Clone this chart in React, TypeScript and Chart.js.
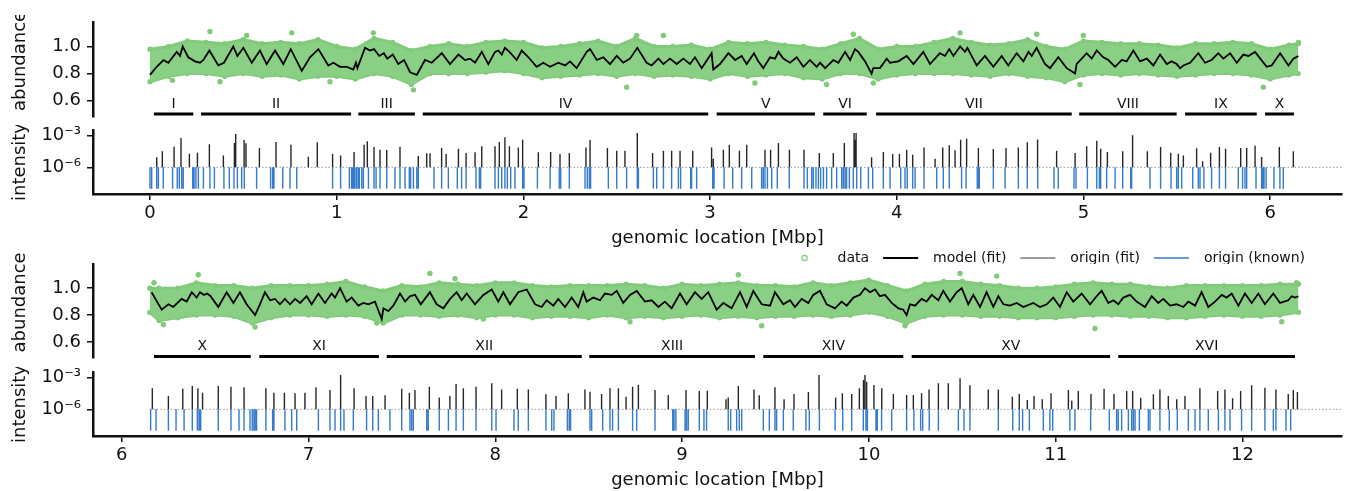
import React, { useEffect, useRef } from 'react';
import { Chart, registerables } from 'chart.js';

Chart.register(...registerables);

const FONT = '"DejaVu Sans", Verdana, sans-serif';
const INK = '#111111';
const GREEN = 'rgb(128, 202, 122)';
const GREEN_FILL = 'rgb(138, 208, 132)';
const BLUE = 'rgb(52, 122, 205)';
const FIT_INK = '#262626';

// ---------------- top panel (0 – 6.2 Mbp) ----------------
const TOP_X_TICKS = [0, 1, 2, 3, 4, 5, 6];
const TOP_CHROM_NAMES = ['I', 'II', 'III', 'IV', 'V', 'VI', 'VII', 'VIII', 'IX', 'X'];
const TOP_CHROM_START = [0.021, 0.273, 1.116, 1.461, 3.035, 3.606, 3.889, 4.977, 5.544, 5.972];
const TOP_CHROM_END = [0.232, 1.077, 1.419, 2.990, 3.562, 3.839, 4.937, 5.499, 5.928, 6.127];

const TOP_MODEL_X = [
  0.000, 0.036, 0.072, 0.098, 0.143, 0.161, 0.175, 0.205, 0.241, 0.268,
  0.286, 0.318, 0.366, 0.396, 0.446, 0.468, 0.500, 0.545, 0.589, 0.625,
  0.670, 0.714, 0.754, 0.813, 0.857, 0.902, 0.955, 0.982, 1.018, 1.053,
  1.089, 1.103, 1.111, 1.152, 1.178, 1.200, 1.228, 1.253, 1.271, 1.300,
  1.330, 1.361, 1.393, 1.429, 1.473, 1.509, 1.563, 1.607, 1.652, 1.687,
  1.714, 1.741, 1.777, 1.812, 1.848, 1.866, 1.884, 1.901, 1.925, 1.964,
  1.991, 2.027, 2.071, 2.107, 2.143, 2.187, 2.223, 2.250, 2.285, 2.339,
  2.357, 2.393, 2.428, 2.464, 2.500, 2.535, 2.571, 2.610, 2.660, 2.687,
  2.723, 2.750, 2.785, 2.821, 2.857, 2.892, 2.919, 2.955, 3.008, 3.017,
  3.053, 3.098, 3.134, 3.169, 3.196, 3.235, 3.258, 3.285, 3.321, 3.348,
  3.366, 3.392, 3.428, 3.464, 3.500, 3.535, 3.571, 3.589, 3.616, 3.660,
  3.687, 3.723, 3.750, 3.776, 3.794, 3.830, 3.865, 3.874, 3.910, 3.946,
  3.964, 4.008, 4.053, 4.089, 4.142, 4.178, 4.231, 4.258, 4.281, 4.303,
  4.339, 4.365, 4.378, 4.428, 4.472, 4.517, 4.562, 4.597, 4.642, 4.678,
  4.705, 4.723, 4.749, 4.794, 4.821, 4.865, 4.910, 4.955, 4.963, 5.017,
  5.044, 5.071, 5.106, 5.133, 5.169, 5.205, 5.231, 5.267, 5.303, 5.339,
  5.374, 5.410, 5.446, 5.472, 5.499, 5.517, 5.535, 5.571, 5.615, 5.651,
  5.686, 5.722, 5.749, 5.785, 5.821, 5.856, 5.883, 5.919, 5.981, 6.008,
  6.053, 6.098, 6.124, 6.151,
];
const TOP_MODEL_Y = [
  0.79, 0.85, 0.90, 0.88, 0.96, 0.93, 1.00, 0.92, 0.89, 0.88,
  0.90, 0.97, 0.86, 0.88, 1.00, 0.93, 0.99, 0.88, 0.97, 0.87,
  0.97, 0.87, 0.98, 0.82, 0.92, 0.98, 0.86, 0.88, 0.85, 0.85,
  0.83, 0.88, 0.84, 0.99, 0.97, 0.98, 0.93, 0.95, 0.91, 0.94,
  0.87, 0.90, 0.81, 0.79, 0.90, 0.88, 0.95, 0.87, 0.94, 0.90,
  0.91, 0.88, 0.96, 0.87, 0.96, 0.97, 0.94, 0.99, 0.96, 0.90,
  0.97, 0.92, 0.85, 0.88, 0.85, 0.88, 0.86, 0.89, 0.84, 0.96,
  0.98, 0.90, 0.92, 0.87, 0.93, 0.88, 0.91, 0.99, 0.88, 0.86,
  0.91, 0.87, 0.91, 0.87, 0.91, 0.87, 0.92, 0.84, 0.95, 0.83,
  0.87, 0.95, 0.90, 0.93, 0.87, 0.95, 0.89, 0.84, 0.92, 0.91,
  0.96, 0.91, 0.88, 0.92, 0.85, 0.90, 0.85, 0.88, 0.84, 0.90,
  0.88, 0.96, 0.90, 0.98, 0.96, 0.89, 0.80, 0.84, 0.84, 0.91,
  0.88, 0.89, 0.93, 0.87, 0.96, 0.87, 0.95, 0.93, 0.98, 0.93,
  1.00, 0.96, 0.99, 0.86, 0.93, 0.85, 0.93, 0.86, 0.95, 0.89,
  0.96, 0.93, 0.99, 0.87, 0.84, 0.92, 0.84, 0.80, 0.87, 0.95,
  0.91, 0.97, 0.92, 0.90, 0.85, 0.90, 0.89, 0.97, 0.89, 0.91,
  0.86, 0.94, 0.87, 0.89, 0.87, 0.84, 0.86, 0.88, 0.95, 0.88,
  0.90, 0.95, 0.91, 0.95, 0.88, 0.94, 0.93, 0.96, 0.85, 0.86,
  0.95, 0.86, 0.91, 0.93,
];

// envelope of the dense cloud of data points (upper / lower edge)
const TOP_ENV_X = [
  0.00, 0.10, 0.20, 0.30, 0.40, 0.50, 0.60, 0.70, 0.80, 0.90,
  1.00, 1.10, 1.20, 1.30, 1.40, 1.50, 1.60, 1.70, 1.80, 1.90,
  2.00, 2.10, 2.20, 2.30, 2.40, 2.50, 2.60, 2.70, 2.80, 2.90,
  3.00, 3.10, 3.20, 3.30, 3.40, 3.50, 3.60, 3.70, 3.80, 3.90,
  4.00, 4.10, 4.20, 4.30, 4.40, 4.50, 4.60, 4.70, 4.80, 4.90,
  5.00, 5.10, 5.20, 5.30, 5.40, 5.50, 5.60, 5.70, 5.80, 5.90,
  6.00, 6.10, 6.15,
];
const TOP_ENV_UPPER = [
  0.98, 1.00, 1.04, 1.03, 1.02, 1.05, 1.02, 1.03, 1.02, 1.05,
  1.00, 0.98, 1.06, 1.03, 0.97, 1.00, 1.02, 1.00, 1.03, 1.04,
  1.03, 0.99, 1.00, 1.02, 1.04, 1.00, 1.06, 1.00, 1.00, 1.01,
  0.98, 1.03, 1.02, 1.03, 1.01, 1.00, 0.98, 1.02, 1.06, 0.98,
  1.00, 1.00, 1.03, 1.06, 1.03, 1.01, 1.02, 1.05, 1.00, 0.98,
  1.04, 1.03, 1.02, 1.02, 1.01, 0.99, 1.02, 1.02, 1.03, 1.02,
  0.98, 1.01, 1.02,
];
const TOP_ENV_LOWER = [
  0.74, 0.78, 0.80, 0.80, 0.78, 0.80, 0.78, 0.79, 0.76, 0.78,
  0.78, 0.76, 0.80, 0.78, 0.72, 0.80, 0.80, 0.80, 0.81, 0.82,
  0.80, 0.77, 0.78, 0.79, 0.80, 0.78, 0.80, 0.78, 0.79, 0.78,
  0.76, 0.80, 0.78, 0.79, 0.80, 0.77, 0.76, 0.80, 0.80, 0.76,
  0.79, 0.80, 0.80, 0.80, 0.79, 0.78, 0.80, 0.78, 0.77, 0.74,
  0.79, 0.80, 0.79, 0.80, 0.79, 0.78, 0.79, 0.80, 0.80, 0.79,
  0.76, 0.79, 0.80,
];
const TOP_OUT_X = [0.12, 0.321, 0.375, 0.518, 0.759, 0.964, 1.196, 1.411, 2.553, 2.607, 2.750, 3.240, 3.624, 3.767, 3.874, 4.339, 4.749, 4.981, 4.999, 5.963, 6.151];
const TOP_OUT_Y = [0.75, 1.11, 0.74, 1.08, 1.10, 0.74, 1.10, 0.68, 0.70, 1.08, 1.08, 0.73, 0.72, 1.09, 0.73, 1.10, 1.09, 0.72, 1.08, 0.70, 1.03];

const TOP_FIT_X = [
  0.036, 0.066, 0.129, 0.166, 0.211, 0.254, 0.318, 0.393, 0.452, 0.459,
  0.504, 0.514, 0.586, 0.675, 0.755, 0.848, 0.896, 0.978, 1.021, 1.093,
  1.147, 1.164, 1.200, 1.232, 1.268, 1.339, 1.437, 1.482, 1.500, 1.562,
  1.586, 1.652, 1.693, 1.741, 1.777, 1.848, 1.871, 1.901, 1.925, 1.973,
  1.996, 2.080, 2.146, 2.196, 2.246, 2.335, 2.357, 2.450, 2.500, 2.544,
  2.610, 2.692, 2.750, 2.794, 2.839, 2.907, 3.008, 3.017, 3.071, 3.103,
  3.157, 3.196, 3.294, 3.324, 3.366, 3.425, 3.503, 3.585, 3.660, 3.719,
  3.771, 3.776, 3.782, 3.865, 3.928, 3.978, 4.014, 4.053, 4.085, 4.146,
  4.205, 4.246, 4.281, 4.312, 4.342, 4.374, 4.437, 4.517, 4.585, 4.651,
  4.699, 4.754, 4.856, 4.955, 5.017, 5.071, 5.092, 5.128, 5.210, 5.263,
  5.342, 5.413, 5.467, 5.508, 5.535, 5.606, 5.638, 5.681, 5.728, 5.761,
  5.842, 5.874, 5.919, 5.954, 6.049, 6.124,
];
const TOP_FIT_LOG10 = [
  -5.06, -4.50, -4.06, -3.25, -4.72, -4.63, -3.84, -4.88, -3.72, -2.88,
  -3.44, -3.75, -4.19, -3.63, -3.88, -5.00, -3.66, -4.75, -4.88, -4.56,
  -3.88, -3.56, -4.09, -4.34, -4.38, -4.06, -4.94, -4.69, -4.69, -4.19,
  -4.75, -4.25, -4.66, -4.59, -4.03, -4.03, -3.63, -3.19, -4.03, -4.13,
  -3.41, -4.59, -4.56, -4.75, -4.66, -4.13, -3.44, -4.19, -4.44, -4.44,
  -2.78, -4.66, -4.44, -4.44, -4.44, -4.44, -4.13, -5.19, -4.34, -3.88,
  -4.44, -3.88, -4.34, -4.34, -3.72, -4.34, -4.34, -4.66, -4.66, -3.72,
  -2.78, -3.41, -2.78, -5.06, -4.56, -4.75, -4.75, -4.34, -4.81, -4.13,
  -5.19, -4.13, -3.94, -4.41, -3.41, -3.31, -4.19, -4.28, -4.19, -4.13,
  -3.66, -3.38, -4.44, -4.66, -4.03, -3.50, -4.25, -4.56, -4.50, -3.00,
  -4.50, -4.09, -4.63, -4.72, -4.88, -4.22, -5.44, -4.63, -4.09, -4.25,
  -4.19, -4.19, -3.97, -5.03, -4.09, -4.50,
];
const TOP_KNOWN_X = [
  0.000, 0.009, 0.036, 0.045, 0.071, 0.121, 0.146, 0.157, 0.170, 0.178,
  0.229, 0.236, 0.246, 0.259, 0.286, 0.321, 0.345, 0.396, 0.425, 0.450,
  0.468, 0.491, 0.505, 0.571, 0.646, 0.657, 0.664, 0.711, 0.750, 0.786,
  0.978, 1.021, 1.068, 1.080, 1.086, 1.093, 1.098, 1.107, 1.116, 1.121,
  1.134, 1.143, 1.170, 1.200, 1.211, 1.232, 1.268, 1.312, 1.339, 1.366,
  1.389, 1.396, 1.411, 1.429, 1.437, 1.521, 1.562, 1.598, 1.646, 1.669,
  1.693, 1.746, 1.764, 1.771, 1.848, 1.866, 1.884, 1.901, 1.914, 1.932,
  1.955, 1.996, 2.003, 2.075, 2.143, 2.192, 2.200, 2.246, 2.330, 2.342,
  2.353, 2.360, 2.455, 2.500, 2.553, 2.610, 2.616, 2.696, 2.714, 2.750,
  2.794, 2.830, 2.842, 2.896, 2.901, 2.928, 3.014, 3.021, 3.075, 3.121,
  3.169, 3.223, 3.276, 3.285, 3.294, 3.307, 3.330, 3.360, 3.424, 3.503,
  3.521, 3.544, 3.553, 3.567, 3.580, 3.592, 3.607, 3.624, 3.651, 3.678,
  3.705, 3.714, 3.723, 3.731, 3.746, 3.767, 3.785, 3.807, 3.848, 3.871,
  3.928, 3.964, 4.021, 4.044, 4.056, 4.085, 4.098, 4.146, 4.214, 4.249,
  4.281, 4.347, 4.371, 4.431, 4.437, 4.442, 4.517, 4.580, 4.651, 4.699,
  4.755, 4.842, 4.865, 4.949, 4.960, 5.021, 5.071, 5.085, 5.092, 5.124,
  5.169, 5.210, 5.253, 5.258, 5.356, 5.413, 5.469, 5.499, 5.508, 5.526,
  5.585, 5.615, 5.624, 5.645, 5.686, 5.728, 5.761, 5.829, 5.852, 5.865,
  5.874, 5.924, 5.954, 5.960, 5.967, 5.978, 6.020, 6.052, 6.070,
];

// ---------------- bottom panel (6.1 – 12.3 Mbp) ----------------
const BOT_X_TICKS = [6, 7, 8, 9, 10, 11, 12];
const BOT_CHROM_NAMES = ['X', 'XI', 'XII', 'XIII', 'XIV', 'XV', 'XVI'];
const BOT_CHROM_START = [6.173, 6.737, 7.419, 8.503, 9.435, 10.229, 11.335];
const BOT_CHROM_END = [6.691, 7.377, 8.463, 9.390, 10.184, 11.291, 12.281];

const BOT_MODEL_X = [
  6.160, 6.214, 6.250, 6.276, 6.321, 6.348, 6.375, 6.401, 6.419, 6.441,
  6.458, 6.476, 6.517, 6.562, 6.598, 6.633, 6.669, 6.714, 6.740, 6.767,
  6.794, 6.821, 6.847, 6.874, 6.901, 6.928, 6.955, 6.990, 7.017, 7.053,
  7.088, 7.124, 7.142, 7.169, 7.204, 7.231, 7.267, 7.294, 7.320, 7.356,
  7.392, 7.401, 7.427, 7.454, 7.490, 7.517, 7.543, 7.570, 7.601, 7.650,
  7.686, 7.722, 7.758, 7.793, 7.820, 7.847, 7.891, 7.936, 7.981, 8.016,
  8.043, 8.079, 8.123, 8.168, 8.213, 8.248, 8.275, 8.311, 8.337, 8.373,
  8.409, 8.444, 8.471, 8.489, 8.525, 8.561, 8.587, 8.623, 8.650, 8.685,
  8.721, 8.757, 8.801, 8.837, 8.873, 8.908, 8.944, 8.989, 9.024, 9.069,
  9.105, 9.140, 9.185, 9.221, 9.265, 9.310, 9.346, 9.381, 9.426, 9.471,
  9.497, 9.542, 9.578, 9.604, 9.640, 9.676, 9.702, 9.738, 9.774, 9.818,
  9.854, 9.881, 9.917, 9.952, 9.979, 10.006, 10.033, 10.059, 10.086, 10.122,
  10.158, 10.184, 10.202, 10.220, 10.247, 10.282, 10.309, 10.336, 10.372, 10.398,
  10.434, 10.470, 10.497, 10.532, 10.559, 10.595, 10.630, 10.666, 10.693, 10.720,
  10.755, 10.791, 10.827, 10.880, 10.916, 10.952, 10.987, 11.023, 11.059, 11.094,
  11.139, 11.184, 11.219, 11.246, 11.282, 11.309, 11.335, 11.362, 11.398, 11.433,
  11.478, 11.514, 11.549, 11.576, 11.612, 11.647, 11.683, 11.710, 11.746, 11.781,
  11.817, 11.853, 11.889, 11.915, 11.942, 11.978, 12.013, 12.049, 12.085, 12.120,
  12.165, 12.201, 12.245, 12.263, 12.281, 12.299,
];
const BOT_MODEL_Y = [
  0.97, 0.84, 0.88, 0.86, 0.92, 0.90, 0.97, 0.93, 0.97, 0.95,
  0.96, 0.94, 0.86, 0.97, 0.89, 0.97, 0.88, 0.80, 0.88, 0.97,
  0.91, 0.92, 0.88, 0.92, 0.88, 0.92, 0.89, 0.94, 0.88, 0.96,
  0.89, 0.96, 0.93, 1.00, 0.90, 0.93, 0.87, 0.89, 0.88, 0.90,
  0.77, 0.85, 0.83, 0.87, 0.96, 0.90, 0.94, 0.95, 0.88, 0.97,
  0.88, 0.85, 0.92, 0.97, 0.91, 0.96, 0.88, 0.95, 0.99, 0.90,
  0.97, 0.88, 0.97, 0.99, 0.88, 0.86, 0.91, 0.87, 0.92, 0.86,
  0.93, 0.86, 0.97, 0.90, 0.93, 0.91, 0.96, 0.95, 0.98, 0.89,
  0.95, 0.98, 0.90, 0.91, 0.86, 0.90, 0.85, 0.96, 0.88, 0.97,
  0.92, 0.97, 0.84, 0.89, 0.85, 0.97, 0.86, 0.98, 0.88, 0.87,
  0.97, 0.88, 0.91, 0.86, 0.92, 0.89, 0.95, 0.98, 0.88, 0.85,
  0.90, 0.87, 0.93, 0.95, 1.00, 0.97, 0.99, 0.94, 0.95, 0.89,
  0.85, 0.84, 0.80, 0.88, 0.87, 0.92, 0.90, 0.95, 0.91, 0.98,
  0.90, 0.97, 1.00, 0.88, 0.95, 0.86, 0.97, 0.86, 0.94, 0.88,
  0.87, 0.89, 0.86, 0.89, 0.86, 0.88, 0.93, 0.86, 0.97, 0.90,
  0.96, 0.88, 0.94, 0.98, 0.89, 0.91, 0.88, 0.93, 0.95, 0.90,
  0.86, 0.94, 0.89, 0.92, 0.87, 0.88, 0.86, 0.90, 0.87, 0.97,
  0.86, 0.90, 0.95, 0.93, 0.96, 0.87, 0.96, 0.89, 0.96, 0.88,
  0.96, 0.89, 0.91, 0.94, 0.93, 0.94,
];
const BOT_ENV_X = [
  6.15, 6.20, 6.30, 6.40, 6.50, 6.60, 6.70, 6.80, 6.90,
  7.00, 7.10, 7.20, 7.30, 7.40, 7.50, 7.60, 7.70, 7.80, 7.90,
  8.00, 8.10, 8.20, 8.30, 8.40, 8.50, 8.60, 8.70, 8.80, 8.90,
  9.00, 9.10, 9.20, 9.30, 9.40, 9.50, 9.60, 9.70, 9.80, 9.90,
  10.00, 10.10, 10.20, 10.30, 10.40, 10.50, 10.60, 10.70, 10.80, 10.90,
  11.00, 11.10, 11.20, 11.30, 11.40, 11.50, 11.60, 11.70, 11.80, 11.90,
  12.00, 12.10, 12.20, 12.30,
];
const BOT_ENV_UPPER = [
  1.00, 1.00, 1.00, 1.04, 1.02, 1.02, 1.00, 1.02, 1.02,
  1.02, 1.03, 1.05, 1.01, 0.98, 1.02, 1.01, 1.04, 1.03, 1.02,
  1.04, 1.04, 1.02, 1.01, 1.02, 1.02, 1.02, 1.03, 1.02, 1.00,
  1.03, 1.02, 1.03, 1.04, 1.02, 1.02, 1.01, 1.04, 1.02, 1.04,
  1.06, 1.02, 0.98, 1.03, 1.05, 1.05, 1.03, 1.02, 1.00, 1.00,
  1.01, 1.03, 1.04, 1.03, 1.03, 1.01, 1.00, 1.02, 1.02, 1.02,
  1.02, 1.02, 1.03, 1.03,
];
const BOT_ENV_LOWER = [
  0.82, 0.76, 0.78, 0.80, 0.80, 0.79, 0.74, 0.78, 0.80,
  0.80, 0.79, 0.80, 0.79, 0.74, 0.80, 0.80, 0.79, 0.80, 0.78,
  0.80, 0.80, 0.78, 0.79, 0.79, 0.78, 0.80, 0.78, 0.79, 0.78,
  0.79, 0.80, 0.78, 0.79, 0.78, 0.79, 0.79, 0.80, 0.79, 0.80,
  0.82, 0.79, 0.74, 0.79, 0.80, 0.80, 0.79, 0.79, 0.78, 0.78,
  0.78, 0.79, 0.80, 0.80, 0.79, 0.79, 0.78, 0.78, 0.79, 0.80,
  0.79, 0.79, 0.80, 0.82,
];
const BOT_OUT_X = [6.173, 6.223, 6.410, 6.714, 7.365, 7.650, 7.784, 7.936, 8.721, 9.301, 9.426, 10.193, 10.488, 10.684, 11.210, 12.210, 12.290];
const BOT_OUT_Y = [1.04, 0.73, 1.10, 0.71, 0.74, 1.11, 1.07, 0.77, 0.75, 1.10, 0.72, 0.72, 1.11, 1.09, 0.70, 0.75, 1.04];

const BOT_FIT_X = [
  6.164, 6.250, 6.327, 6.378, 6.408, 6.433, 6.517, 6.585, 6.655, 6.772,
  6.815, 6.871, 6.928, 6.981, 7.040, 7.115, 7.172, 7.244, 7.308, 7.344,
  7.410, 7.499, 7.540, 7.570, 7.647, 7.700, 7.757, 7.790, 7.829, 7.897,
  7.981, 8.034, 8.118, 8.177, 8.271, 8.325, 8.391, 8.480, 8.507, 8.569,
  8.614, 8.659, 8.700, 8.735, 8.766, 8.855, 8.926, 9.021, 9.092, 9.135,
  9.235, 9.247, 9.301, 9.385, 9.413, 9.497, 9.546, 9.599, 9.676, 9.733,
  9.822, 9.858, 9.908, 9.949, 9.971, 9.979, 9.988, 10.027, 10.069, 10.131,
  10.202, 10.238, 10.282, 10.322, 10.372, 10.425, 10.488, 10.541, 10.639, 10.693,
  10.768, 10.805, 10.848, 10.884, 10.928, 10.975, 11.068, 11.086, 11.121, 11.189,
  11.259, 11.312, 11.380, 11.412, 11.455, 11.523, 11.558, 11.603, 11.648, 11.692,
  11.772, 11.867, 11.906, 11.947, 11.990, 12.049, 12.120, 12.179, 12.245, 12.272,
  12.294,
];
const BOT_FIT_LOG10 = [
  -4.03, -4.75, -4.06, -3.81, -4.03, -4.44, -3.81, -3.88, -3.94, -4.03,
  -4.44, -4.44, -4.50, -4.44, -3.94, -4.19, -2.78, -4.03, -4.75, -4.75,
  -4.69, -4.06, -4.44, -4.19, -3.88, -4.88, -4.75, -3.63, -4.03, -3.88,
  -3.56, -4.13, -4.06, -4.13, -4.59, -4.75, -4.50, -4.13, -4.34, -4.56,
  -4.03, -4.03, -4.81, -3.88, -3.72, -4.19, -4.66, -4.19, -4.28, -4.25,
  -5.06, -4.88, -3.81, -4.13, -4.69, -3.94, -5.06, -4.56, -4.38, -2.78,
  -4.88, -4.50, -4.56, -4.03, -3.25, -2.78, -3.41, -3.72, -4.03, -4.56,
  -4.66, -4.66, -4.50, -4.13, -3.56, -3.56, -3.09, -3.75, -4.13, -4.13,
  -4.81, -4.56, -5.13, -4.75, -5.06, -4.50, -4.19, -5.19, -4.28, -4.56,
  -4.06, -4.56, -4.28, -4.28, -4.91, -4.59, -4.13, -4.75, -5.06, -4.75,
  -4.03, -4.28, -4.13, -4.97, -4.28, -3.75, -3.97, -4.13, -4.56, -4.19,
  -4.38,
];
const BOT_KNOWN_X = [
  6.155, 6.184, 6.250, 6.291, 6.334, 6.378, 6.405, 6.414, 6.419, 6.423,
  6.517, 6.585, 6.628, 6.655, 6.687, 6.699, 6.708, 6.714, 6.722, 6.772,
  6.808, 6.815, 6.874, 6.910, 6.937, 7.053, 7.115, 7.142, 7.172, 7.190,
  7.240, 7.311, 7.344, 7.374, 7.436, 7.499, 7.543, 7.552, 7.561, 7.633,
  7.641, 7.700, 7.749, 7.790, 7.829, 7.897, 7.981, 8.004, 8.100, 8.123,
  8.177, 8.271, 8.302, 8.314, 8.386, 8.396, 8.403, 8.507, 8.516, 8.575,
  8.614, 8.628, 8.659, 8.735, 8.757, 8.855, 8.950, 8.957, 8.967, 9.016,
  9.024, 9.033, 9.092, 9.117, 9.131, 9.247, 9.260, 9.292, 9.306, 9.319,
  9.435, 9.467, 9.497, 9.506, 9.542, 9.595, 9.663, 9.681, 9.735, 9.819,
  9.860, 9.908, 9.970, 9.984, 9.992, 10.038, 10.045, 10.068, 10.122, 10.202,
  10.241, 10.277, 10.288, 10.323, 10.372, 10.479, 10.509, 10.541, 10.693, 10.770,
  10.805, 10.823, 10.859, 10.934, 10.969, 10.984, 11.076, 11.103, 11.187, 11.287,
  11.326, 11.335, 11.353, 11.389, 11.407, 11.416, 11.425, 11.448, 11.496, 11.505,
  11.558, 11.608, 11.651, 11.710, 11.746, 11.772, 11.817, 11.871, 11.906, 11.933,
  11.995, 12.049, 12.120, 12.165, 12.179, 12.233, 12.258,
];

const LEGEND_LABELS = ['data', 'model (fit)', 'origin (fit)', 'origin (known)'];

// ---------------- helpers ----------------
type Pt = { x: number; y: number | null };

function pairs(xs: number[], ys: number[]): Pt[] {
  const n = Math.min(xs.length, ys.length);
  const out: Pt[] = [];
  for (let i = 0; i < n; i++) out.push({ x: xs[i], y: ys[i] });
  return out;
}

function spikes(xs: number[], from: (i: number) => number, to: (i: number) => number): Pt[] {
  const out: Pt[] = [];
  xs.forEach((x, i) => {
    out.push({ x, y: from(i) }, { x, y: to(i) }, { x, y: null });
  });
  return out;
}

function spans(starts: number[], ends: number[], level: number): Pt[] {
  const out: Pt[] = [];
  starts.forEach((s, i) => {
    out.push({ x: s, y: level }, { x: ends[i], y: level }, { x: ends[i], y: null });
  });
  return out;
}

function chromLabelPlugin(names: string[], starts: number[], ends: number[], level: number) {
  return {
    id: 'chromLabels',
    afterDatasetsDraw(chart: any) {
      const { ctx, scales } = chart;
      ctx.save();
      ctx.font = `14px ${FONT}`;
      ctx.fillStyle = INK;
      ctx.textAlign = 'center';
      ctx.textBaseline = 'middle';
      names.forEach((n, i) => {
        const cx = scales.x.getPixelForValue((starts[i] + ends[i]) / 2);
        const cy = scales.y.getPixelForValue(level) - 10;
        ctx.fillText(n, cx, cy);
      });
      ctx.restore();
    },
  };
}

// legend icons: 10px blank lead-in (item spacing), then the symbol
const ICON_W = 53;
function legendIcon(kind: 'dot' | 'line', color: string, width: number): HTMLCanvasElement {
  const c = document.createElement('canvas');
  c.width = ICON_W;
  c.height = 14;
  const g = c.getContext('2d')!;
  g.strokeStyle = color;
  g.lineWidth = width;
  g.beginPath();
  if (kind === 'dot') {
    g.arc(27, 7, 2.6, 0, Math.PI * 2);
  } else {
    g.moveTo(10, 7);
    g.lineTo(45, 7);
  }
  g.stroke();
  return c;
}

const yTitle = (text: string) => ({
  display: true,
  text,
  color: INK,
  font: { family: FONT, size: 18 },
  padding: { top: 10, bottom: 0 },
});

const axisLine = { display: true, color: INK, width: 2.5 };
const tickMarks = { display: true, drawOnChartArea: false, drawTicks: true, tickLength: 6, color: INK, lineWidth: 1.5 };

interface AbundanceSpec {
  modelX: number[]; modelY: number[];
  envX: number[]; envUp: number[]; envLo: number[];
  outX: number[]; outY: number[];
  names: string[]; starts: number[]; ends: number[]; level: number;
  xMin: number; xMax: number;
  padTop: number; padBottom: number; padRight: number;
  title: string;
  legend: boolean;
}

function abundanceConfig(s: AbundanceSpec): any {
  const legendItems = s.legend
    ? [
        { text: LEGEND_LABELS[0], pointStyle: legendIcon('dot', GREEN, 1.3) },
        { text: LEGEND_LABELS[1], pointStyle: legendIcon('line', '#000000', 2) },
        { text: LEGEND_LABELS[2], pointStyle: legendIcon('line', '#3a3a3a', 1.2) },
        { text: LEGEND_LABELS[3], pointStyle: legendIcon('line', BLUE, 1.4) },
      ].map((it, i) => ({
        ...it,
        fillStyle: 'rgba(0,0,0,0)',
        strokeStyle: 'rgba(0,0,0,0)',
        lineWidth: 0,
        hidden: false,
        datasetIndex: i,
        fontColor: INK,
      }))
    : [];
  return {
    type: 'line',
    data: {
      datasets: [
        {
          data: pairs(s.envX, s.envUp),
          borderColor: GREEN, backgroundColor: GREEN_FILL, borderWidth: 3,
          pointRadius: 2.6, pointBackgroundColor: GREEN, pointBorderWidth: 0,
          fill: '+1', order: 5, tension: 0,
        },
        {
          data: pairs(s.envX, s.envLo),
          borderColor: GREEN, backgroundColor: GREEN_FILL, borderWidth: 3,
          pointRadius: 2.6, pointBackgroundColor: GREEN, pointBorderWidth: 0,
          fill: false, order: 5, tension: 0,
        },
        {
          data: pairs(s.outX, s.outY),
          showLine: false, pointRadius: 2.7,
          pointBackgroundColor: GREEN, pointBorderWidth: 0, order: 4,
        },
        {
          data: spans(s.starts, s.ends, s.level),
          borderColor: '#000000', borderWidth: 3, pointRadius: 0, spanGaps: false, order: 1,
        },
        {
          data: pairs(s.modelX, s.modelY),
          borderColor: '#000000', borderWidth: 1.8, pointRadius: 0, tension: 0, order: 0,
        },
      ],
    },
    plugins: [chromLabelPlugin(s.names, s.starts, s.ends, s.level)],
    options: {
      responsive: false,
      animation: false,
      devicePixelRatio: 1,
      events: [],
      layout: { padding: { left: 0, right: s.padRight, top: s.padTop, bottom: s.padBottom } },
      plugins: {
        tooltip: { enabled: false },
        legend: s.legend
          ? {
              display: true,
              position: 'top',
              align: 'end',
              maxHeight: 17,
              labels: {
                usePointStyle: true,
                pointStyleWidth: ICON_W,
                boxHeight: 14,
                padding: 4,
                color: INK,
                font: { family: FONT, size: 14 },
                generateLabels: () => legendItems,
              },
            }
          : { display: false },
      },
      scales: {
        x: { type: 'linear', display: false, min: s.xMin, max: s.xMax },
        y: {
          type: 'linear',
          position: 'left',
          min: 0.48,
          max: 1.18,
          border: axisLine,
          grid: tickMarks,
          ticks: {
            color: INK,
            font: { family: FONT, size: 18 },
            padding: 6,
            callback: (v: number) => Number(v).toFixed(1),
          },
          afterBuildTicks: (sc: any) => {
            sc.ticks = [0.6, 0.8, 1.0].map((v) => ({ value: v }));
          },
          title: yTitle(s.title),
          afterFit: (sc: any) => {
            sc.width = 93;
            sc.paddingTop = 0;
            sc.paddingBottom = 0;
          },
        },
      },
    },
  };
}

interface IntensitySpec {
  fitX: number[]; fitLog: number[]; knownX: number[];
  xMin: number; xMax: number; xTicks: number[]; dotStart: number;
}

function intensityConfig(s: IntensitySpec): any {
  return {
    type: 'line',
    data: {
      datasets: [
        {
          data: [{ x: s.dotStart, y: 1e-6 }, { x: s.xMax, y: 1e-6 }],
          borderColor: '#9a9a9a', borderWidth: 1, borderDash: [1.5, 2], pointRadius: 0, order: 3,
        },
        {
          data: spikes(s.knownX, () => 1e-8, () => 1e-6),
          borderColor: BLUE, borderWidth: 1.4, pointRadius: 0, spanGaps: false, order: 2,
        },
        {
          data: spikes(s.fitX, () => 1e-6, (i) => Math.pow(10, s.fitLog[i])),
          borderColor: FIT_INK, borderWidth: 1.4, pointRadius: 0, spanGaps: false, order: 1,
        },
      ],
    },
    options: {
      responsive: false,
      animation: false,
      devicePixelRatio: 1,
      events: [],
      layout: { padding: { left: 0, right: 4, top: 5, bottom: 0 } },
      plugins: { legend: { display: false }, tooltip: { enabled: false } },
      scales: {
        x: {
          type: 'linear',
          position: 'bottom',
          min: s.xMin,
          max: s.xMax,
          border: axisLine,
          grid: tickMarks,
          ticks: {
            color: INK,
            font: { family: FONT, size: 18 },
            padding: 3,
            maxRotation: 0,
            autoSkip: false,
            callback: (v: number) => String(v),
          },
          afterBuildTicks: (sc: any) => {
            sc.ticks = s.xTicks.map((v) => ({ value: v }));
          },
          title: {
            display: true,
            text: 'genomic location [Mbp]',
            color: INK,
            font: { family: FONT, size: 18 },
            padding: { top: 0, bottom: 0 },
          },
          afterFit: (sc: any) => {
            sc.height = 55;
            sc.paddingLeft = 0;
            sc.paddingRight = 0;
          },
        },
        y: {
          type: 'logarithmic',
          position: 'left',
          min: Math.pow(10, -8.5),
          max: Math.pow(10, -2.5),
          border: axisLine,
          grid: tickMarks,
          ticks: {
            color: INK,
            font: { family: FONT, size: 18 },
            padding: 6,
            callback: (v: number) => {
              const e = Math.round(Math.log10(v));
              return e === -3 ? '10\u207B\u00B3' : e === -6 ? '10\u207B\u2076' : '';
            },
          },
          afterBuildTicks: (sc: any) => {
            sc.ticks = [1e-6, 1e-3].map((v) => ({ value: v }));
          },
          title: yTitle('intensity'),
          afterFit: (sc: any) => {
            sc.width = 93;
            sc.paddingTop = 0;
            sc.paddingBottom = 0;
          },
        },
      },
    },
  };
}

export default function App() {
  const topAbund = useRef<HTMLCanvasElement>(null);
  const topInt = useRef<HTMLCanvasElement>(null);
  const botAbund = useRef<HTMLCanvasElement>(null);
  const botInt = useRef<HTMLCanvasElement>(null);

  useEffect(() => {
    Chart.defaults.font.family = FONT;
    Chart.defaults.color = INK;
    const charts: Chart[] = [];
    charts.push(
      new Chart(topAbund.current!, abundanceConfig({
        modelX: TOP_MODEL_X, modelY: TOP_MODEL_Y,
        envX: TOP_ENV_X, envUp: TOP_ENV_UPPER, envLo: TOP_ENV_LOWER,
        outX: TOP_OUT_X, outY: TOP_OUT_Y,
        names: TOP_CHROM_NAMES, starts: TOP_CHROM_START, ends: TOP_CHROM_END, level: 0.502,
        xMin: -0.3053, xMax: 6.3846,
        padTop: 7, padBottom: 8, padRight: 4,
        title: '   abundance',
        legend: false,
      })),
    );
    charts.push(
      new Chart(topInt.current!, intensityConfig({
        fitX: TOP_FIT_X, fitLog: TOP_FIT_LOG10, knownX: TOP_KNOWN_X,
        xMin: -0.3053, xMax: 6.3846, xTicks: TOP_X_TICKS, dotStart: 0,
      })),
    );
    charts.push(
      new Chart(botAbund.current!, abundanceConfig({
        modelX: BOT_MODEL_X, modelY: BOT_MODEL_Y,
        envX: BOT_ENV_X, envUp: BOT_ENV_UPPER, envLo: BOT_ENV_LOWER,
        outX: BOT_OUT_X, outY: BOT_OUT_Y,
        names: BOT_CHROM_NAMES, starts: BOT_CHROM_START, ends: BOT_CHROM_END, level: 0.492,
        xMin: 5.8464, xMax: 12.356,
        padTop: 0, padBottom: 8, padRight: 37,
        title: '   abundance',
        legend: true,
      })),
    );
    charts.push(
      new Chart(botInt.current!, intensityConfig({
        fitX: BOT_FIT_X, fitLog: BOT_FIT_LOG10, knownX: BOT_KNOWN_X,
        xMin: 5.8464, xMax: 12.5327, xTicks: BOT_X_TICKS, dotStart: 6.15,
      })),
    );
    return () => charts.forEach((c) => c.destroy());
  }, []);

  const cv = (top: number, h: number): React.CSSProperties => ({
    position: 'absolute', left: 0, top, width: 1346, height: h, display: 'block',
  });

  return (
    <div style={{ position: 'absolute', left: 0, top: 0, width: 1346, height: 491, overflow: 'hidden', background: '#ffffff' }}>
      <canvas ref={topAbund} width={1346} height={110} style={cv(15, 110)} />
      <canvas ref={topInt} width={1346} height={124} style={cv(125, 124)} />
      <canvas ref={botAbund} width={1346} height={119} style={cv(247, 119)} />
      <canvas ref={botInt} width={1346} height={124} style={cv(367, 124)} />
    </div>
  );
}
